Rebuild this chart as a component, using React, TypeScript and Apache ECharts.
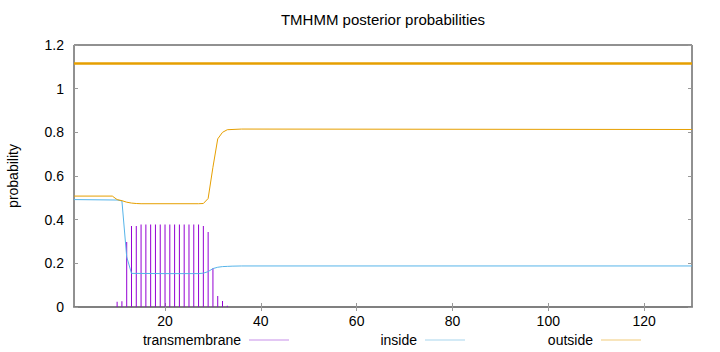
import { useEffect, useRef } from "react";
import * as echarts from "echarts";

// Transmembrane posterior probability (impulses), by residue
const tmResidues = [10, 11, 12, 13, 14, 15, 16, 17, 18, 19, 20, 21, 22, 23, 24, 25, 26, 27, 28, 29, 30, 31, 32, 33];
const tmProb = [0.024, 0.026, 0.298, 0.371, 0.371, 0.378, 0.378, 0.378, 0.378, 0.378, 0.378, 0.378, 0.378, 0.378, 0.378, 0.378, 0.378, 0.378, 0.371, 0.344, 0.178, 0.05, 0.027, 0.006];

// Inside probability (line)
const insideX = [1, 10, 11, 12, 13, 20, 27, 28, 29, 30, 31, 32, 33, 34, 36, 130];
const insideY = [0.492, 0.49, 0.486, 0.23, 0.154, 0.153, 0.153, 0.155, 0.162, 0.176, 0.182, 0.185, 0.186, 0.187, 0.188, 0.188];

// Outside probability (line)
const outsideX = [1, 9, 10, 11, 12, 13, 14, 15, 27, 28, 29, 30, 31, 32, 33, 36, 130];
const outsideY = [0.508, 0.508, 0.492, 0.487, 0.48, 0.476, 0.474, 0.473, 0.473, 0.474, 0.497, 0.64, 0.77, 0.8, 0.812, 0.815, 0.813];

// Predicted topology bar (outside for the whole sequence)
const topologyX = [1, 130];
const topologyY = [1.115, 1.115];

const xTicks = [20, 40, 60, 80, 100, 120];

const FONT = "'Liberation Sans', Arial, Helvetica, sans-serif";

const zip = (xs: number[], ys: number[]) => xs.map((x, i) => [x, ys[i]]);

export default function App() {
  const ref = useRef<HTMLDivElement>(null);
  useEffect(() => {
    const chart = echarts.init(ref.current!, null, { renderer: "svg" });
    const legendCommon = {
      orient: "horizontal",
      align: "right",
      top: 333,
      padding: 0,
      itemWidth: 40,
      itemHeight: 1,
      icon: "rect",
      selectedMode: false,
      textStyle: { fontFamily: FONT, fontSize: 14, color: "#000", padding: [0, 3, 0, 0] },
    };
    chart.setOption({
      animation: false,
      backgroundColor: "#fff",
      title: {
        text: "TMHMM posterior probabilities",
        left: 383,
        top: 12,
        textAlign: "center",
        padding: 0,
        textStyle: { fontFamily: FONT, fontSize: 15, fontWeight: "normal", color: "#000" },
      },
      legend: [
        { ...legendCommon, right: 431, data: [{ name: "transmembrane", itemStyle: { color: "#c890ea" } }] },
        { ...legendCommon, right: 255, data: [{ name: "inside", itemStyle: { color: "#a8d6ee" } }] },
        { ...legendCommon, right: 79, data: [{ name: "outside", itemStyle: { color: "#f2cc7a" } }] },
      ],
      grid: {
        left: 74,
        right: 28,
        top: 45,
        bottom: 45,
        show: true,
        borderColor: "#222",
        borderWidth: 1,
        containLabel: false,
        outerBoundsMode: "none",
      },
      xAxis: [
        {
          type: "value",
          min: 1,
          max: 130,
          position: "bottom",
          axisLine: { show: true, onZero: false, lineStyle: { color: "#808080", width: 2 } },
          axisTick: { show: true, inside: true, length: 4, customValues: xTicks, lineStyle: { color: "#999" } },
          axisLabel: { show: true, customValues: xTicks, margin: 7, fontFamily: FONT, fontSize: 14, color: "#000" },
          splitLine: { show: false },
        },
        {
          type: "value",
          min: 1,
          max: 130,
          position: "top",
          axisLine: { show: false },
          axisTick: { show: true, inside: true, length: 4, customValues: xTicks, lineStyle: { color: "#999" } },
          axisLabel: { show: false },
          splitLine: { show: false },
        },
      ],
      yAxis: [
        {
          type: "value",
          min: 0,
          max: 1.2,
          interval: 0.2,
          position: "left",
          name: "probability",
          nameLocation: "middle",
          nameRotate: 90,
          nameGap: 54,
          nameTextStyle: { fontFamily: FONT, fontSize: 14, color: "#000" },
          axisLine: { show: false },
          axisTick: { show: true, inside: true, length: 4, lineStyle: { color: "#999" } },
          axisLabel: { margin: 10, fontFamily: FONT, fontSize: 14, color: "#000" },
          splitLine: { show: false },
        },
        {
          type: "value",
          min: 0,
          max: 1.2,
          interval: 0.2,
          position: "right",
          axisLine: { show: false },
          axisTick: { show: true, inside: true, length: 4, lineStyle: { color: "#999" } },
          axisLabel: { show: false },
          splitLine: { show: false },
        },
      ],
      series: [
        {
          name: "transmembrane",
          type: "bar",
          xAxisIndex: 0,
          yAxisIndex: 0,
          barWidth: 1,
          itemStyle: { color: "#9400d3" },
          data: zip(tmResidues, tmProb),
        },
        {
          name: "inside",
          type: "line",
          xAxisIndex: 0,
          yAxisIndex: 0,
          symbol: "none",
          lineStyle: { color: "#56b4e9", width: 1 },
          itemStyle: { color: "#56b4e9" },
          data: zip(insideX, insideY),
        },
        {
          name: "outside",
          type: "line",
          xAxisIndex: 0,
          yAxisIndex: 0,
          symbol: "none",
          lineStyle: { color: "#e69f00", width: 1 },
          itemStyle: { color: "#e69f00" },
          data: zip(outsideX, outsideY),
        },
        {
          name: "topology",
          type: "line",
          xAxisIndex: 0,
          yAxisIndex: 0,
          symbol: "none",
          lineStyle: { color: "#e69f00", width: 2.5 },
          data: zip(topologyX, topologyY),
        },
      ],
    });
    return () => chart.dispose();
  }, []);
  return <div ref={ref} style={{ position: "fixed", left: 0, top: 0, width: 720, height: 352 }} />;
}
